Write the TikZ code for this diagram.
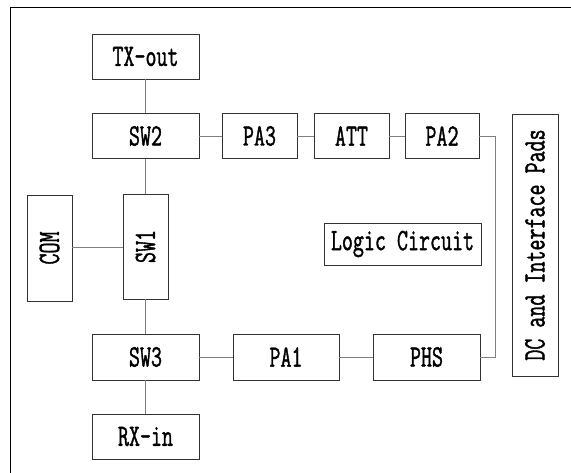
\documentclass[tikz,border=0pt]{standalone}
\usepackage{fontspec}
\usepackage{graphicx}
\newfontfamily\lblfont[FakeBold=1.6]{Latin Modern Mono}
\newcommand{\lbltxt}[1]{\scalebox{0.69}[1]{#1}}
\begin{document}
\begin{tikzpicture}[x=1pt,y=-1pt,
  box/.style={draw=black!80, line width=0.9pt, inner sep=0pt, rectangle,
    font=\fontsize{31}{31}\selectfont\lblfont},
  wire/.style={draw=black!50, line width=0.9pt}]
\useasboundingbox (0,0) rectangle (571,473);
\draw[line width=0.9pt] (10,473) -- (10,7) -- (571,7);
\node[box, minimum width=107pt, minimum height=45pt] (tx) at (145.5,56.5) {\lbltxt{TX-out}};
\node[box, minimum width=107pt, minimum height=45pt] (sw2) at (145.5,136) {\lbltxt{SW2}};
\node[box, minimum width=75pt, minimum height=45pt] (pa3) at (259.5,136) {\lbltxt{PA3}};
\node[box, minimum width=75pt, minimum height=45pt] (att) at (351.5,136) {\lbltxt{ATT}};
\node[box, minimum width=74pt, minimum height=45pt] (pa2) at (442,136) {\lbltxt{PA2}};
\node[box, minimum width=45pt, minimum height=105pt] (sw1) at (145.5,246.5) {\rotatebox{90}{\lbltxt{SW1}}};
\node[box, minimum width=45pt, minimum height=106pt] (com) at (49.5,248) {\rotatebox{90}{\lbltxt{COM}}};
\node[box, minimum width=107pt, minimum height=46pt] (sw3) at (145.5,357) {\lbltxt{SW3}};
\node[box, minimum width=107pt, minimum height=45pt] (rx) at (145.5,436.5) {\lbltxt{RX-in}};
\node[box, minimum width=106pt, minimum height=46pt] (pa1) at (286,357) {\lbltxt{PA1}};
\node[box, minimum width=107pt, minimum height=46pt] (phs) at (426.5,357) {\lbltxt{PHS}};
\node[box, minimum width=157pt, minimum height=42pt] (logic) at (402.5,244) {\lbltxt{Logic Circuit}};
\node[box, minimum width=46pt, minimum height=262pt] (dc) at (535,245) {\rotatebox{90}{\lbltxt{DC and Interface Pads}}};
\coordinate (bendtop) at (495,136);
\coordinate (bendbot) at (495,357);
\draw[wire] (tx) -- (sw2);
\draw[wire] (sw2) -- (sw1);
\draw[wire] (sw1) -- (sw3);
\draw[wire] (sw3) -- (rx);
\draw[wire] (com.east |- 0,247) -- (sw1.west |- 0,247);
\draw[wire] (sw2) -- (pa3);
\draw[wire] (pa3) -- (att);
\draw[wire] (att) -- (pa2);
\draw[wire] (sw3) -- (pa1);
\draw[wire] (pa1) -- (phs);
\draw[wire] (pa2.east) -- (bendtop) -- (bendbot) -- (phs.east);
\end{tikzpicture}
\end{document}
